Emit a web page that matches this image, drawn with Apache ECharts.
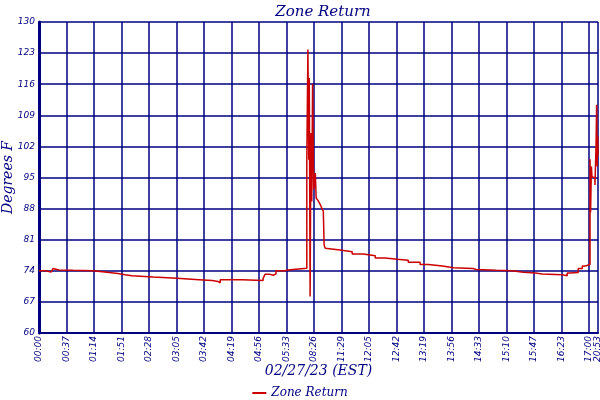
<!DOCTYPE html>
<html>
<head>
<meta charset="utf-8">
<script src="https://cdn.jsdelivr.net/npm/echarts@6/dist/echarts.min.js"></script>
<style>
html, body { margin: 0; padding: 0; background: #fff; }
#main { width: 600px; height: 400px; }
</style>
</head>
<body>
<div id="main"></div>
<script>
// tick positions on the x axis (one unit per label step) and their labels
var xTickPos = [0, 1, 2, 3, 4, 5, 6, 7, 8, 9, 10, 11, 12, 13, 14, 15, 16, 17, 18, 19, 20, 20.33];
var xTickLabels = ['00:00', '00:37', '01:14', '01:51', '02:28', '03:05', '03:42', '04:19', '04:56', '05:33',
    '08:26', '11:29', '12:05', '12:42', '13:19', '13:56', '14:33', '15:10', '15:47', '16:23', '17:00', '20:53'];
var yTicks = [60, 67, 74, 81, 88, 95, 102, 109, 116, 123, 130];

// Zone Return samples: position on x axis, value held until next sample
var zoneX = [0, 0.25, 0.44, 0.51, 0.58, 0.73, 1.24, 1.97, 2.47, 2.87, 3.13, 3.38, 4.15, 5.02, 5.82, 6.30, 6.51, 6.59,
    7.39, 8.15, 8.22, 8.41, 8.52, 8.62, 8.95, 9.06,
    9.74, 9.78, 9.81, 9.83, 9.86, 9.89, 9.92, 9.95, 9.99, 10.05, 10.08, 10.15, 10.22, 10.28, 10.34, 10.37, 10.41,
    10.48, 10.95, 11.39, 11.79, 12.23, 12.59, 13.03, 13.43, 13.86, 14.16, 14.67, 15.07,
    15.79, 15.90, 16.63, 17.21, 17.61, 18.05, 18.30, 19.03, 19.21, 19.32, 19.61, 19.76, 19.87,
    20.04, 20.06, 20.09, 20.11, 20.15, 20.22, 20.26, 20.28, 20.30, 20.32, 20.33];
var zoneY = [74.0, 73.7, 74.0, 74.5, 74.2, 74.1, 74.0, 73.7, 73.4, 73.1, 72.9, 72.6, 72.3, 72.0, 71.8, 71.6, 71.3, 72.0,
    71.8, 72.3, 73.2, 73.0, 73.3, 74.0, 74.2, 74.6,
    99.0, 123.8, 99.0, 117.4, 68.2, 105.0, 89.6, 116.1, 92.3, 96.0, 90.4, 89.8, 89.0, 88.2, 87.4, 79.8, 79.1,
    78.7, 78.3, 77.8, 77.4, 76.9, 76.6, 76.4, 75.9, 75.4, 75.1, 74.7, 74.5,
    74.3, 74.1, 74.0, 73.7, 73.5, 73.3, 73.1, 72.9, 73.5, 73.6, 74.5, 75.1, 75.4,
    99.1, 87.2, 97.5, 95.2, 94.9, 93.3, 102.4, 111.4, 97.5, 104.2, 100.0];

var navy = '#000080';
var zoneData = [];
for (var i = 0; i < zoneX.length; i++) {
    zoneData.push([zoneX[i], zoneY[i]]);
}

var myChart = echarts.init(document.getElementById('main'));
var option = {
    animation: false,
    backgroundColor: '#fff',
    title: {
        text: 'Zone Return',
        left: 318,
        top: 0,
        textAlign: 'center',
        textStyle: { color: navy, fontFamily: 'DejaVu Serif', fontStyle: 'italic', fontWeight: 'normal', fontSize: 15 }
    },
    legend: {
        top: 382,
        left: 'center',
        itemWidth: 14,
        itemHeight: 2,
        icon: 'rect',
        textStyle: { color: navy, fontFamily: 'DejaVu Serif', fontStyle: 'italic', fontSize: 12 },
        data: ['Zone Return']
    },
    grid: { left: 39, right: 2, top: 22, bottom: 67, containLabel: false, outerBoundsMode: 'none' },
    xAxis: {
        type: 'value',
        min: 0,
        max: 20.33,
        name: '02/27/23 (EST)',
        nameLocation: 'middle',
        nameGap: 31,
        nameMoveOverlap: false,
        nameTextStyle: { color: navy, fontFamily: 'DejaVu Serif', fontStyle: 'italic', fontSize: 14 },
        axisLine: { lineStyle: { color: navy, width: 2 } },
        axisTick: { show: false, customValues: xTickPos },
        axisLabel: {
            customValues: xTickPos,
            hideOverlap: false,
            showMinLabel: true,
            showMaxLabel: true,
            rotate: 90,
            margin: 3,
            color: navy,
            fontFamily: 'DejaVu Sans',
            fontStyle: 'italic',
            fontSize: 9,
            formatter: function (v) {
                var k = 0;
                for (var j = 0; j < xTickPos.length; j++) {
                    if (Math.abs(xTickPos[j] - v) < 0.01) k = j;
                }
                return xTickLabels[k];
            }
        },
        splitLine: { show: true, lineStyle: { color: navy, width: 1.5 } }
    },
    yAxis: {
        type: 'value',
        min: 60,
        max: 130,
        name: 'Degrees F',
        nameLocation: 'middle',
        nameGap: 24,
        nameMoveOverlap: false,
        nameTextStyle: { color: navy, fontFamily: 'DejaVu Serif', fontStyle: 'italic', fontSize: 14 },
        axisLine: { show: true, lineStyle: { color: navy, width: 3 } },
        axisTick: { show: false, customValues: yTicks },
        axisLabel: {
            customValues: yTicks,
            hideOverlap: false,
            margin: 4,
            color: navy,
            fontFamily: 'DejaVu Sans',
            fontStyle: 'italic',
            fontSize: 9
        },
        splitLine: { show: true, lineStyle: { color: navy, width: 1.5 } }
    },
    series: [
        {
            name: 'Zone Return',
            type: 'line',
            step: 'end',
            showSymbol: false,
            color: '#cc0000',
            lineStyle: { color: '#cc0000', width: 1.5 },
            data: zoneData
        }
    ]
};
myChart.setOption(option);
</script>
</body>
</html>
